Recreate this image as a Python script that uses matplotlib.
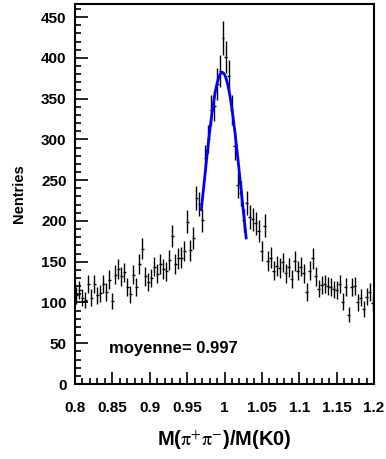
import matplotlib
matplotlib.use("Agg")
import matplotlib.pyplot as plt
import numpy as np
from matplotlib.ticker import MultipleLocator

plt.rcParams['font.family'] = ['Liberation Sans', 'DejaVu Sans']
plt.rcParams['mathtext.fontset'] = 'stix'

# histogram: 100 bins from 0.8 to 1.2
bin_lo = 0.8
bin_hi = 1.2
counts = [109, 115, 106, 103, 123, 106, 123, 109, 111, 123,
          113, 128, 102, 134, 141, 132, 137, 119, 110, 134,
          119, 147, 166, 132, 125, 130, 144, 135, 147, 141,
          138, 152, 181, 147, 154, 155, 163, 199, 164, 179,
          228, 221, 201, 277, 300, 336, 341, 368, 384, 424,
          401, 378, 336, 292, 244, 234, 201, 222, 205, 202,
          197, 188, 163, 194, 151, 155, 139, 145, 142, 149,
          136, 143, 129, 151, 139, 144, 136, 113, 139, 154,
          132, 117, 121, 123, 120, 119, 116, 115, 123, 101,
          119, 85, 119, 120, 100, 106, 92, 107, 113, 99]

# gaussian fit
fit_amp = 382.0
fit_mean = 0.997
fit_sigma = 0.026
fit_lo = 0.969
fit_hi = 1.029

counts = np.array(counts, dtype=float)
nbins = len(counts)
width = (bin_hi - bin_lo) / nbins
centers = bin_lo + width * (np.arange(nbins) + 0.5)

fig = plt.figure(figsize=(3.86, 4.59), dpi=100)
ax = fig.add_axes([75 / 386, 1 - 384 / 459, 299 / 386, 380 / 459])

ax.errorbar(centers, counts, yerr=np.sqrt(counts), xerr=width / 2,
            fmt='none', ecolor='black', elinewidth=1.0, capsize=0)

xf = np.linspace(fit_lo, fit_hi, 200)
yf = fit_amp * np.exp(-0.5 * ((xf - fit_mean) / fit_sigma) ** 2)
ax.plot(xf, yf, color='#0000ff', lw=2.0)

ax.set_xlim(bin_lo, bin_hi)
ax.set_ylim(0, 466)

ax.xaxis.set_major_locator(MultipleLocator(0.05))
ax.xaxis.set_minor_locator(MultipleLocator(0.01))
ax.yaxis.set_major_locator(MultipleLocator(50))
ax.yaxis.set_minor_locator(MultipleLocator(10))
ax.set_xticks(np.arange(0.8, 1.2001, 0.05))
ax.set_xticklabels(['0.8', '0.85', '0.9', '0.95', '1', '1.05', '1.1', '1.15', '1.2'])

ax.tick_params(which='both', direction='in', top=False, right=False, width=1.2)
ax.tick_params(which='major', length=9, labelsize=11, pad=12)
ax.tick_params(which='minor', length=4.5)
ax.tick_params(axis='y', pad=6)
for lab in ax.get_xticklabels() + ax.get_yticklabels():
    lab.set_fontweight('bold')

for s in ax.spines.values():
    s.set_linewidth(1.5)

ax.set_ylabel('Nentries', fontsize=10.5, fontweight='bold', labelpad=11)
ax.set_xlabel(r'M($\mathrm{\pi}^{+}\mathrm{\pi}^{-}$)/M(K0)', fontsize=14.5,
              fontweight='bold', labelpad=10)

ax.text(0.845, 44, 'moyenne= 0.997', fontsize=12, fontweight='bold', va='center')

fig.savefig('out.png', dpi=100)
